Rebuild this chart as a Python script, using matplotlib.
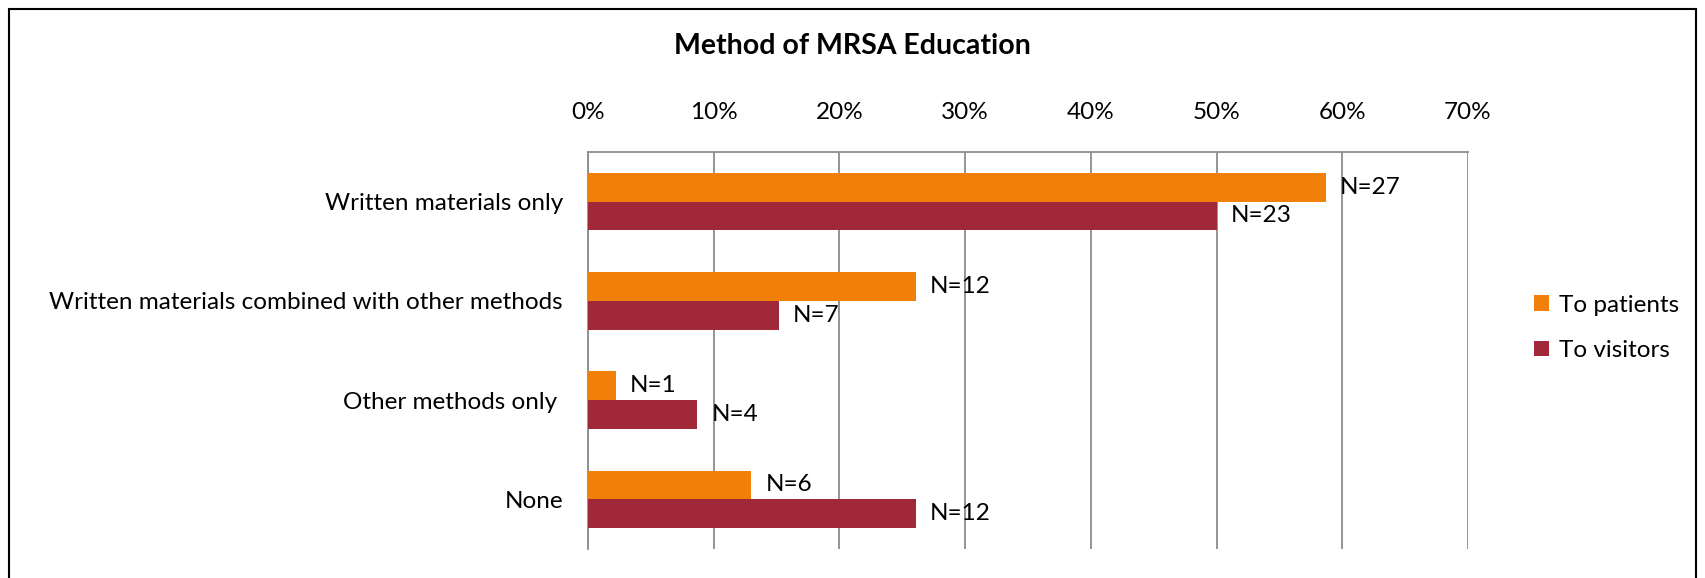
import numpy as np
import matplotlib.pyplot as plt
from matplotlib.patches import Rectangle

# data
categories = ['Written materials only', 'Written materials combined with other methods',
              'Other methods only ', 'None']
patients_pct = [58.7, 26.1, 2.2, 13.0]
visitors_pct = [50.0, 15.2, 8.7, 26.1]
patients_n = [27, 12, 1, 6]
visitors_n = [23, 7, 4, 12]
ticks = [0, 10, 20, 30, 40, 50, 60, 70]

orange = '#F0800A'
maroon = '#A02838'

plt.rcParams['font.family'] = ['Lato', 'DejaVu Sans']

fig = plt.figure(figsize=(17.05, 5.78), dpi=100)
ax = fig.add_axes([0.3449, 0.0502, 0.5161, 0.687])

y = np.arange(len(categories))
h = 0.29
b1 = ax.barh(y - h / 2, patients_pct, height=h, color=orange, label='To patients', zorder=3)
b2 = ax.barh(y + h / 2, visitors_pct, height=h, color=maroon, label='To visitors', zorder=3)

for bar, n in zip(b1, patients_n):
    ax.annotate('N=%d' % n, (bar.get_width(), bar.get_y() + bar.get_height() / 2),
                xytext=(10, 0), textcoords='offset points', va='center', ha='left', fontsize=17.5)
for bar, n in zip(b2, visitors_n):
    ax.annotate('N=%d' % n, (bar.get_width(), bar.get_y() + bar.get_height() / 2),
                xytext=(10, 0), textcoords='offset points', va='center', ha='left', fontsize=17.5)

ax.set_xlim(0, 70)
ax.set_ylim(3.5, -0.5)
ax.set_xticks(ticks)
ax.set_xticklabels(['%d%%' % t for t in ticks])
ax.xaxis.tick_top()
ax.set_yticks(y)
ax.set_yticklabels(categories)
ax.tick_params(axis='x', length=0, pad=21, labelsize=17.5)
ax.tick_params(axis='y', length=0, pad=18, labelsize=17.5)
ax.grid(axis='x', color='#8c8c8c', linewidth=1.3, zorder=0)
for s in ['right', 'bottom']:
    ax.spines[s].set_visible(False)
for s in ['top', 'left']:
    ax.spines[s].set_color('#8c8c8c')
    ax.spines[s].set_linewidth(1.3)

fig.text(0.5, 0.921, 'Method of MRSA Education', ha='center', va='center',
         fontsize=20.5, fontweight='bold')

fig.legend(handles=[b1, b2], loc='center left', bbox_to_anchor=(0.887, 0.433),
           frameon=False, fontsize=17.5, handlelength=0.6, handleheight=0.6,
           handletextpad=0.4, labelspacing=1.0)

# outer chart border
fig.patches.append(Rectangle((9 / 1705, -0.05), 1 - 18 / 1705, 1.05 - 9 / 578,
                             transform=fig.transFigure, fill=False,
                             edgecolor='black', linewidth=1.5))

fig.savefig('out.png', dpi=100)
